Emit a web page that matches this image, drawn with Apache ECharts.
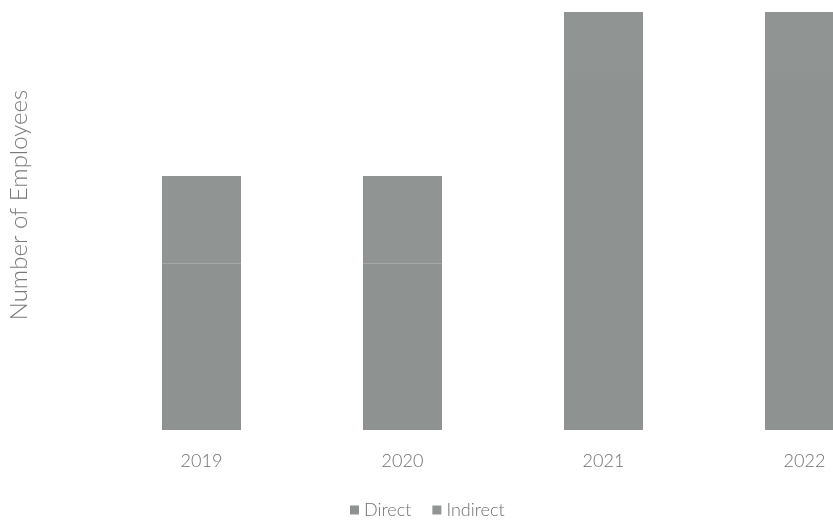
<!DOCTYPE html>
<html>
<head>
<meta charset="utf-8">
<title>Number of Employees</title>
<script src="https://cdn.jsdelivr.net/npm/echarts@6/dist/echarts.min.js"></script>
<style>
  html, body { margin: 0; padding: 0; background: #ffffff; }
  #frame { width: 833px; height: 524px; overflow: hidden; position: relative; }
  /* the plot runs past the right edge, so the last bar is cut off */
  #chart { width: 905px; height: 524px; }
</style>
</head>
<body>
<div id="frame"><div id="chart"></div></div>
<script>
// Headcount by year, split into direct and indirect staff
const years = ['2019', '2020', '2021', '2022'];
const directStaff = [720, 720, 1520, 1520];
const indirectStaff = [380, 380, 290, 290];
const seriesNames = ['Direct', 'Indirect'];

const chart = echarts.init(document.getElementById('chart'));

const labelFont = { color: '#707070', fontFamily: 'Lato', fontWeight: 300, fontSize: 18 };

chart.setOption({
  animation: false,
  grid: { left: 101, right: 0, top: 12, bottom: 94 },
  xAxis: {
    type: 'category',
    data: years,
    axisLine: { show: false },
    axisTick: { show: false },
    axisLabel: Object.assign({ margin: 22 }, labelFont)
  },
  yAxis: {
    type: 'value',
    min: 0,
    max: 1810,
    show: false,
    splitLine: { show: false }
  },
  legend: {
    data: seriesNames,
    bottom: 0,
    left: 345,
    itemWidth: 9,
    itemHeight: 9,
    itemGap: 21,
    icon: 'rect',
    textStyle: labelFont
  },
  graphic: [{
    type: 'text',
    x: 19,
    y: 205,
    rotation: Math.PI / 2,
    style: {
      text: 'Number of Employees',
      fill: '#787878',
      font: '300 24px Lato',
      align: 'center',
      verticalAlign: 'middle'
    }
  }],
  series: [
    {
      name: seriesNames[0],
      type: 'bar',
      stack: 'total',
      barWidth: 79,
      data: directStaff,
      itemStyle: { color: '#8e9291' }
    },
    {
      name: seriesNames[1],
      type: 'bar',
      stack: 'total',
      barWidth: 79,
      data: indirectStaff,
      itemStyle: { color: '#909493' }
    }
  ]
});
</script>
</body>
</html>
